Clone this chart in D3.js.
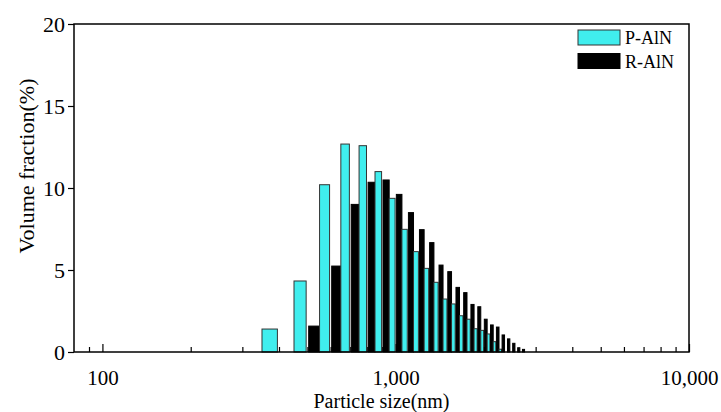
<!DOCTYPE html>
<html>
<head>
<meta charset="utf-8">
<script src="https://cdn.jsdelivr.net/npm/d3@7"></script>
<style>
  html, body { margin: 0; padding: 0; background: #fff; }
  svg { display: block; }
  text { font-family: "Liberation Serif", "Times New Roman", serif; fill: #000; }
</style>
</head>
<body>
<svg id="chart" width="721" height="412"></svg>
<script>
// Bin centres (nm)
const sizes = [400, 500, 600, 700, 800, 900, 1000, 1100, 1200, 1300, 1400, 1500,
               1600, 1700, 1800, 1900, 2000, 2100, 2200, 2300, 2400, 2500, 2600, 2700];
// Volume fraction (%) per series
const pAlN = [1.4, 4.33, 10.2, 12.68, 12.58, 11.0, 9.37, 7.48, 6.12, 5.1, 4.25, 3.23,
              2.93, 2.21, 2.0, 1.42, 1.32, 1.1, 0.63, 0.17, 0, 0, 0, 0];
const rAlN = [0, 1.58, 5.24, 9.0, 10.35, 10.49, 9.61, 8.5, 7.46, 6.67, 5.3, 4.9,
              3.94, 3.62, 2.9, 2.76, 2.0, 1.65, 1.52, 1.04, 0.8, 0.53, 0.26, 0.16];
const seriesNames = ["P-AlN", "R-AlN"];
const seriesColors = ["#40eeee", "#000000"];
const xMajorTicks = [100, 1000, 10000];
const xMajorLabels = ["100", "1,000", "10,000"];
const xMinorTicks = [90, 200, 300, 400, 500, 600, 700, 800, 900,
                     2000, 3000, 4000, 5000, 6000, 7000, 8000, 9000];
const yTicks = [0, 5, 10, 15, 20];
const xDomain = [80, 10000];
const yDomain = [0, 20];

(function () {
const svg = d3.select("#chart");
const mLeft = 74, mRight = 689, mTop = 24, mBottom = 352;

const x = d3.scaleLog().domain(xDomain).range([mLeft, mRight]);
const y = d3.scaleLinear().domain(yDomain).range([mBottom, mTop]);

// Bars: each bin holds P-AlN on the left and R-AlN on the right (data units, nm)
const halfBin = 50, gap = 5;
const barData = [];
sizes.forEach((c, i) => {
  if (pAlN[i] > 0) barData.push({x0: c - halfBin, x1: c - gap, v: pAlN[i], s: 0});
  if (rAlN[i] > 0) barData.push({x0: c + gap, x1: c + halfBin, v: rAlN[i], s: 1});
});

svg.append("g").selectAll("rect").data(barData).join("rect")
  .attr("x", d => x(d.x0))
  .attr("y", d => y(d.v))
  .attr("width", d => x(d.x1) - x(d.x0))
  .attr("height", d => y(0) - y(d.v))
  .attr("fill", d => seriesColors[d.s])
  .attr("stroke", d => d.s === 0 ? "#333" : "#000")
  .attr("stroke-width", 1);

// Frame
svg.append("rect")
  .attr("x", mLeft).attr("y", mTop)
  .attr("width", mRight - mLeft).attr("height", mBottom - mTop)
  .attr("fill", "none").attr("stroke", "#000").attr("stroke-width", 1.5);

// X axis (ticks pointing inward)
const xAxisMajor = d3.axisBottom(x).tickValues(xMajorTicks)
  .tickSizeInner(-8).tickSizeOuter(0)
  .tickFormat((d, i) => xMajorLabels[i]);
const gx = svg.append("g").attr("transform", `translate(0,${mBottom})`).call(xAxisMajor);
gx.select(".domain").remove();
gx.selectAll("line").attr("stroke", "#000").attr("stroke-width", 1.2);
gx.selectAll("text").attr("y", 33).attr("dy", 0)
  .style("font-size", "21px").style("font-family", "Liberation Serif");

const xAxisMinor = d3.axisBottom(x).tickValues(xMinorTicks)
  .tickSizeInner(-5).tickSizeOuter(0).tickFormat("");
const gxm = svg.append("g").attr("transform", `translate(0,${mBottom})`).call(xAxisMinor);
gxm.select(".domain").remove();
gxm.selectAll("line").attr("stroke", "#000").attr("stroke-width", 1.2);

// Y axis (ticks outward)
const yAxis = d3.axisLeft(y).tickValues(yTicks).tickSizeInner(6).tickSizeOuter(0).tickPadding(3);
const gy = svg.append("g").attr("transform", `translate(${mLeft},0)`).call(yAxis);
gy.select(".domain").remove();
gy.selectAll("line").attr("stroke", "#000").attr("stroke-width", 1.2);
gy.selectAll("text").style("font-size", "22px").style("font-family", "Liberation Serif")
  .attr("dy", "0.33em");

// Axis titles
svg.append("text")
  .attr("x", (mLeft + mRight) / 2).attr("y", 408)
  .attr("text-anchor", "middle")
  .style("font-size", "20px")
  .text("Particle size(nm)");

svg.append("text")
  .attr("transform", `translate(34,166) rotate(-90)`)
  .attr("text-anchor", "middle")
  .style("font-size", "22px")
  .text("Volume fraction(%)");

// Legend
const legend = svg.append("g");
seriesNames.forEach((name, i) => {
  const yy = 30 + i * 23.5;
  legend.append("rect")
    .attr("x", 578).attr("y", yy).attr("width", 42).attr("height", 15)
    .attr("fill", seriesColors[i]).attr("stroke", i === 0 ? "#333" : "#000").attr("stroke-width", 1);
  legend.append("text")
    .attr("x", 625).attr("y", yy + 14)
    .style("font-size", "18px")
    .text(name);
});
})();
</script>
</body>
</html>
